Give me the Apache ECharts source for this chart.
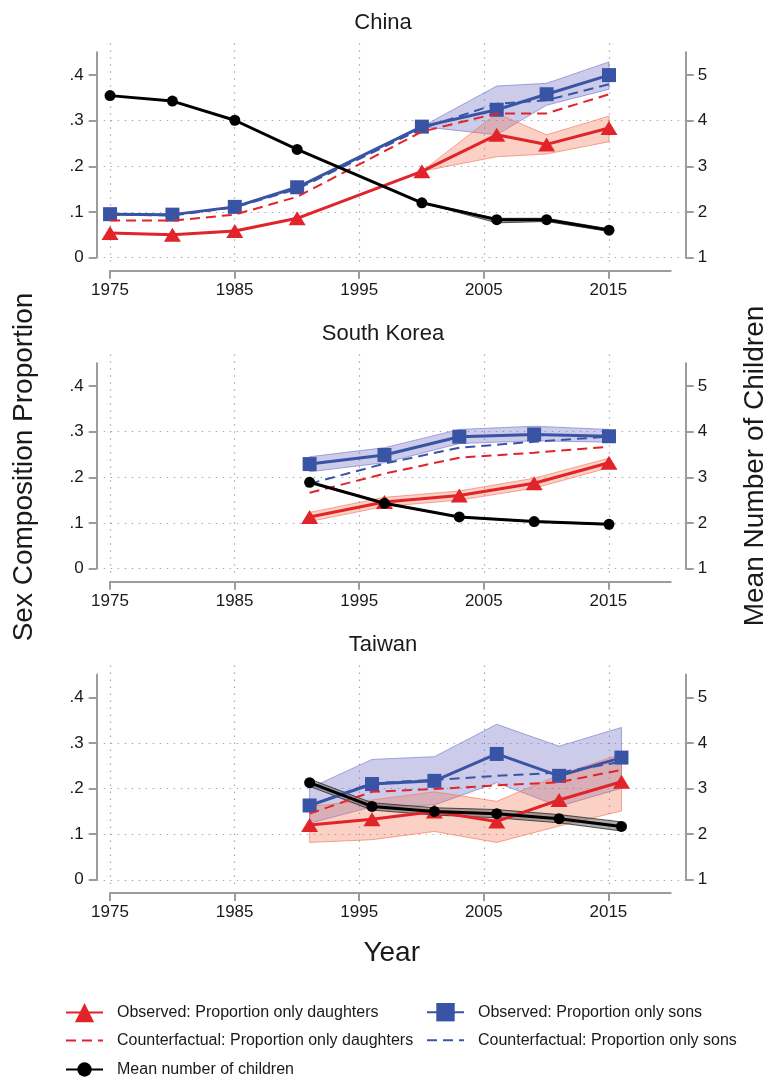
<!DOCTYPE html>
<html>
<head>
<meta charset="utf-8">
<script src="https://cdn.jsdelivr.net/npm/echarts@6/dist/echarts.min.js"></script>
<style>
  html, body { margin: 0; padding: 0; background: #fff; }
  #chart { width: 766px; height: 1077px; }
</style>
</head>
<body>
<div id="chart"></div>
<script>
// ---- Tick values and labels ----
const xTicks = [1975, 1985, 1995, 2005, 2015];
const propTicks = [0, 0.1, 0.2, 0.3, 0.4];
const propTickLabels = ['0', '.1', '.2', '.3', '.4'];
const kidsTicks = [1, 2, 3, 4, 5];

// ---- China ----
const cnYears = [1975, 1980, 1985, 1990, 2000, 2006, 2010, 2015];
const cnDaughters = [0.054, 0.050, 0.058, 0.086, 0.189, 0.269, 0.248, 0.284];
const cnDaughtersLo = [null, null, null, null, 0.189, 0.221, 0.227, 0.254];
const cnDaughtersHi = [null, null, null, null, 0.189, 0.316, 0.269, 0.310];
const cnSons = [0.095, 0.094, 0.111, 0.154, 0.287, 0.324, 0.358, 0.400];
const cnSonsLo = [null, null, null, null, 0.287, 0.269, 0.334, 0.369];
const cnSonsHi = [null, null, null, null, 0.287, 0.376, 0.382, 0.429];
const cnCfDaughters = [0.081, 0.081, 0.094, 0.133, 0.276, 0.316, 0.316, 0.358];
const cnCfSons = [0.094, 0.092, 0.110, 0.150, 0.283, 0.337, 0.345, 0.380];
const cnKids = [4.55, 4.43, 4.01, 3.37, 2.20, 1.83, 1.83, 1.60];
const cnKidsLo = [null, null, null, null, 2.20, 1.76, 1.79, 1.57];
const cnKidsHi = [null, null, null, null, 2.20, 1.86, 1.86, 1.63];

// ---- South Korea ----
const krYears = [1991, 1997, 2003, 2009, 2015];
const krDaughters = [0.113, 0.146, 0.160, 0.187, 0.232];
const krDaughtersLo = [0.103, 0.136, 0.150, 0.176, 0.221];
const krDaughtersHi = [0.123, 0.156, 0.170, 0.198, 0.242];
const krSons = [0.229, 0.249, 0.289, 0.294, 0.290];
const krSonsLo = [0.212, 0.232, 0.274, 0.280, 0.277];
const krSonsHi = [0.245, 0.265, 0.305, 0.312, 0.305];
const krCfDaughters = [0.166, 0.208, 0.243, 0.254, 0.267];
const krCfSons = [0.186, 0.230, 0.265, 0.278, 0.289];
const krKids = [2.89, 2.43, 2.13, 2.03, 1.97];
const krKidsLo = [2.88, 2.42, 2.12, 2.02, 1.96];
const krKidsHi = [2.90, 2.44, 2.14, 2.04, 1.98];

// ---- Taiwan ----
const twYears = [1991, 1996, 2001, 2006, 2011, 2016];
const twDaughters = [0.120, 0.133, 0.150, 0.128, 0.175, 0.215];
const twDaughtersLo = [0.082, 0.088, 0.106, 0.082, 0.118, 0.151];
const twDaughtersHi = [0.161, 0.175, 0.193, 0.172, 0.230, 0.276];
const twSons = [0.163, 0.210, 0.217, 0.276, 0.228, 0.268];
const twSonsLo = [0.124, 0.160, 0.164, 0.213, 0.161, 0.201];
const twSonsHi = [0.201, 0.264, 0.270, 0.341, 0.293, 0.334];
const twCfDaughters = [0.145, 0.193, 0.199, 0.207, 0.214, 0.241];
const twCfSons = [0.163, 0.212, 0.219, 0.228, 0.235, 0.259];
const twKids = [3.13, 2.61, 2.50, 2.45, 2.34, 2.17];
const twKidsLo = [3.05, 2.53, 2.42, 2.36, 2.25, 2.07];
const twKidsHi = [3.21, 2.69, 2.58, 2.54, 2.43, 2.27];

// ---- Series names ----
const D_OBS = 'Observed: Proportion only daughters';
const S_OBS = 'Observed: Proportion only sons';
const D_CF = 'Counterfactual: Proportion only daughters';
const S_CF = 'Counterfactual: Proportion only sons';
const KIDS = 'Mean number of children';

// ---- Styling ----
const FONT = 'Liberation Sans, Arial, sans-serif';
const RED = '#e1232a';
const BLUE = '#3a54a5';
const AXIS_GREY = '#9c9c9c';
const GRID_DOT = '#a8a8a8';
const TEXT = '#1a1a1a';

// Layout of each panel (zero line of the proportion axis, in px)
const panels = [
  { title: 'China', zeroY: 257.5,
    years: cnYears, d: cnDaughters, dLo: cnDaughtersLo, dHi: cnDaughtersHi,
    s: cnSons, sLo: cnSonsLo, sHi: cnSonsHi, cd: cnCfDaughters, cs: cnCfSons,
    k: cnKids, kLo: cnKidsLo, kHi: cnKidsHi },
  { title: 'South Korea', zeroY: 568.5,
    years: krYears, d: krDaughters, dLo: krDaughtersLo, dHi: krDaughtersHi,
    s: krSons, sLo: krSonsLo, sHi: krSonsHi, cd: krCfDaughters, cs: krCfSons,
    k: krKids, kLo: krKidsLo, kHi: krKidsHi },
  { title: 'Taiwan', zeroY: 879.8,
    years: twYears, d: twDaughters, dLo: twDaughtersLo, dHi: twDaughtersHi,
    s: twSons, sLo: twSonsLo, sHi: twSonsHi, cd: twCfDaughters, cs: twCfSons,
    k: twKids, kLo: twKidsLo, kHi: twKidsHi }
];

const PX_PER_PROP = 456;          // 0.1 on the proportion axis = 45.6 px
const PROP_MAX = 0.45;
const AXIS_L = 96.7, AXIS_R = 685.7;
const X_MIN = 1973.93, X_MAX = 2021.15;
const XLINE_L = 110, XLINE_R = 670.7;

function pairs(years, vals) {
  const out = [];
  years.forEach((y, i) => { if (vals[i] != null) out.push([y, vals[i]]); });
  return out;
}

// Confidence band drawn as one polygon through the axis scales
function band(years, lo, hi, xi, yi, fill, stroke) {
  const pts = [];
  years.forEach((y, i) => { if (lo[i] != null) pts.push([y, lo[i], hi[i]]); });
  return {
    type: 'custom', xAxisIndex: xi, yAxisIndex: yi, silent: true, z: 1,
    data: pts,
    renderItem(params, api) {
      if (params.dataIndex !== 0) return null;
      const upper = pts.map(p => api.coord([p[0], p[2]]));
      const lower = pts.map(p => api.coord([p[0], p[1]])).reverse();
      return {
        type: 'polygon',
        shape: { points: upper.concat(lower) },
        style: { fill: fill, stroke: stroke, lineWidth: 1 }
      };
    }
  };
}

const grid = [], xAxis = [], yAxis = [], series = [], title = [];

panels.forEach((p) => {
  const topY = p.zeroY - PROP_MAX * PX_PER_PROP;

  // grid: data area
  const gMain = grid.length;
  grid.push({ left: AXIS_L, width: AXIS_R - AXIS_L, top: topY, height: PROP_MAX * PX_PER_PROP });
  const xMain = xAxis.length;
  xAxis.push({ type: 'value', gridIndex: gMain, min: X_MIN, max: X_MAX, show: false });
  const yLeft = yAxis.length;
  yAxis.push({
    type: 'value', gridIndex: gMain, position: 'left', min: 0, max: PROP_MAX, interval: 0.1,
    axisLine: { show: true, lineStyle: { color: AXIS_GREY, width: 2 } },
    axisTick: { show: true, length: 8, customValues: propTicks, lineStyle: { color: AXIS_GREY, width: 2 } },
    axisLabel: {
      show: true, margin: 13, customValues: propTicks, fontFamily: FONT, fontSize: 17, color: TEXT,
      formatter: (v) => { const i = propTicks.findIndex(t => Math.abs(t - v) < 1e-9); return i >= 0 ? propTickLabels[i] : ''; }
    },
    splitLine: { show: true, showMaxLine: false, lineStyle: { color: GRID_DOT, width: 1.2, type: [1.5, 5.5] } }
  });
  const yRight = yAxis.length;
  yAxis.push({
    type: 'value', gridIndex: gMain, position: 'right', min: 1, max: 5.5, interval: 1,
    axisLine: { show: true, lineStyle: { color: AXIS_GREY, width: 2 } },
    axisTick: { show: true, length: 8, customValues: kidsTicks, lineStyle: { color: AXIS_GREY, width: 2 } },
    axisLabel: { show: true, margin: 12, customValues: kidsTicks, fontFamily: FONT, fontSize: 17, color: TEXT },
    splitLine: { show: false }
  });

  // grid: horizontal year axis below the data area
  const gX = grid.length;
  const xLineY = p.zeroY + 13.3;
  grid.push({ left: XLINE_L, width: XLINE_R - XLINE_L, top: xLineY - 1, height: 1 });
  xAxis.push({
    type: 'value', gridIndex: gX, min: 1975, max: 2020, interval: 10, position: 'bottom',
    axisLine: { show: true, lineStyle: { color: AXIS_GREY, width: 2 } },
    axisTick: { show: true, length: 8, customValues: xTicks, lineStyle: { color: AXIS_GREY, width: 2 } },
    axisLabel: { show: true, margin: 11, customValues: xTicks, fontFamily: FONT, fontSize: 17, color: TEXT,
      formatter: (v) => String(v) },
    splitLine: { show: false }
  });
  yAxis.push({ type: 'value', gridIndex: gX, show: false });

  // grid: vertical dotted grid lines at the year ticks
  const gV = grid.length;
  grid.push({ left: XLINE_L, width: AXIS_R - XLINE_L, top: topY - 9, height: PROP_MAX * PX_PER_PROP + 18 });
  xAxis.push({
    type: 'value', gridIndex: gV, min: 1975, max: X_MAX, interval: 10,
    axisLine: { show: false }, axisTick: { show: false }, axisLabel: { show: false },
    splitLine: { show: true, showMaxLine: false, lineStyle: { color: GRID_DOT, width: 1.2, type: [1.5, 5.5] } }
  });
  yAxis.push({ type: 'value', gridIndex: gV, show: false });

  title.push({
    text: p.title, left: 'center', top: p.zeroY - 251,
    textStyle: { fontFamily: FONT, fontSize: 22, fontWeight: 'normal', color: TEXT }
  });

  // bands
  series.push(band(p.years, p.sLo, p.sHi, xMain, yLeft, 'rgba(110,110,195,0.35)', 'rgba(100,100,200,0.55)'));
  series.push(band(p.years, p.dLo, p.dHi, xMain, yLeft, 'rgba(242,115,80,0.33)', 'rgba(240,120,90,0.65)'));
  series.push(band(p.years, p.kLo, p.kHi, xMain, yRight, 'rgba(90,90,90,0.5)', 'rgba(40,40,40,0.8)'));

  // lines
  series.push({
    name: D_OBS, type: 'line', xAxisIndex: xMain, yAxisIndex: yLeft, z: 3,
    data: pairs(p.years, p.d), symbol: 'triangle', symbolSize: [17, 14],
    itemStyle: { color: RED }, lineStyle: { color: RED, width: 3 }
  });
  series.push({
    name: S_OBS, type: 'line', xAxisIndex: xMain, yAxisIndex: yLeft, z: 4,
    data: pairs(p.years, p.s), symbol: 'rect', symbolSize: 14,
    itemStyle: { color: BLUE }, lineStyle: { color: BLUE, width: 3 }
  });
  series.push({
    name: D_CF, type: 'line', xAxisIndex: xMain, yAxisIndex: yLeft, z: 5,
    data: pairs(p.years, p.cd), symbol: 'none',
    itemStyle: { color: RED }, lineStyle: { color: RED, width: 2, type: [10, 6] }
  });
  series.push({
    name: S_CF, type: 'line', xAxisIndex: xMain, yAxisIndex: yLeft, z: 5,
    data: pairs(p.years, p.cs), symbol: 'none',
    itemStyle: { color: BLUE }, lineStyle: { color: BLUE, width: 2, type: [10, 6] }
  });
  series.push({
    name: KIDS, type: 'line', xAxisIndex: xMain, yAxisIndex: yRight, z: 6,
    data: pairs(p.years, p.k), symbol: 'circle', symbolSize: 11,
    itemStyle: { color: '#000' }, lineStyle: { color: '#000', width: 3 }
  });
});

const legendText = { fontFamily: FONT, fontSize: 16, color: TEXT, padding: [0, 0, 0, 9] };
const noMarker = { opacity: 0, color: 'rgba(0,0,0,0)', borderWidth: 0 };
const legendBase = { padding: 0, orient: 'vertical', itemWidth: 37, selectedMode: false, textStyle: legendText };

const option = {
  animation: false,
  backgroundColor: '#fff',
  title: title,
  grid: grid,
  xAxis: xAxis,
  yAxis: yAxis,
  series: series,
  legend: [
    Object.assign({}, legendBase, { left: 65, top: 1003, width: 340, height: 80, itemHeight: 24, itemGap: 8.8,
      data: [D_OBS, { name: D_CF, itemStyle: noMarker }] }),
    Object.assign({}, legendBase, { left: 65, top: 1061.5, width: 340, height: 40, itemHeight: 18, itemGap: 0,
      data: [KIDS] }),
    Object.assign({}, legendBase, { left: 426, top: 1003, width: 330, height: 80, itemHeight: 23, itemGap: 9.6,
      data: [S_OBS, { name: S_CF, itemStyle: noMarker }] })
  ],
  graphic: [
    { type: 'text', x: 24, y: 467, rotation: Math.PI / 2,
      style: { text: 'Sex Composition Proportion', font: '28px ' + FONT, fill: TEXT, align: 'center', verticalAlign: 'middle' } },
    { type: 'text', x: 755, y: 466, rotation: Math.PI / 2,
      style: { text: 'Mean Number of Children', font: '28px ' + FONT, fill: TEXT, align: 'center', verticalAlign: 'middle' } },
    { type: 'text', x: 391.7, y: 953,
      style: { text: 'Year', font: '28px ' + FONT, fill: TEXT, align: 'center', verticalAlign: 'middle' } }
  ]
};

const chart = echarts.init(document.getElementById('chart'), null, { renderer: 'canvas' });
chart.setOption(option);
</script>
</body>
</html>
